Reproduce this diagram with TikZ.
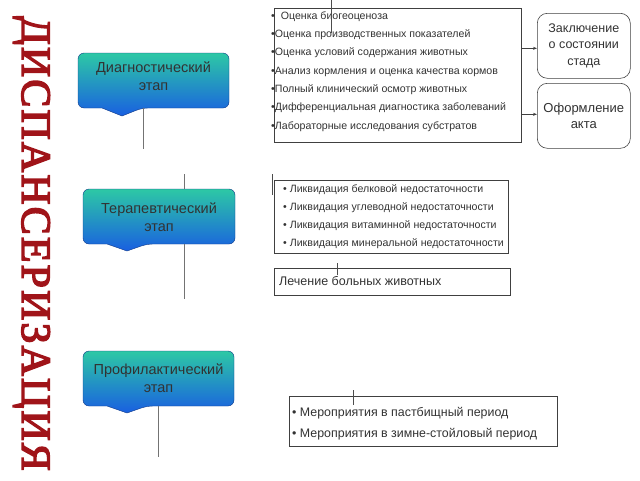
\documentclass[tikz,border=0pt]{standalone}
\usepackage{fontspec}
\setmainfont{Liberation Sans}
\newfontfamily\titlefont[FakeBold=3.5,LetterSpace=5]{Liberation Serif}
\usetikzlibrary{arrows.meta}
\definecolor{stagetop}{RGB}{45,200,165}
\definecolor{stagebot}{RGB}{25,95,225}
\definecolor{titlered}{RGB}{160,20,25}
\definecolor{txt}{RGB}{50,50,50}
\begin{document}
\begin{tikzpicture}[x=1pt,y=-1pt,
  stageshape/.style={top color=stagetop, bottom color=stagebot, draw=stagebot!60!black, line width=0.4pt},
  stagearea/.style={minimum width=#1, minimum height=55pt, inner sep=0},
  stagetext/.style={align=center, font=\fontsize{14.5}{18}\selectfont, text=txt, inner sep=0},
  listbox/.style={draw=black!75, line width=0.6pt, anchor=north west, inner sep=0},
  itemA/.style={anchor=base west, inner sep=0, text=txt, font=\fontsize{10.6}{12}\selectfont},
  itemB/.style={anchor=base west, inner sep=0, text=txt, font=\fontsize{10.6}{12}\selectfont},
  itemD/.style={anchor=base west, inner sep=0, text=txt, font=\fontsize{12.4}{14}\selectfont},
  resultbox/.style={draw=black!75, line width=0.6pt, rounded corners=10pt, anchor=north west,
    minimum width=93pt, minimum height=65pt, align=center, inner sep=0, text=txt},
  stem/.style={draw=black!55, line width=0.7pt},
  link/.style={draw=black!75, line width=0.6pt},
  tick/.style={draw=black!70, line width=0.6pt},
  arrowlink/.style={link, -{Stealth[length=4pt,width=3pt]}}
]
\useasboundingbox (0,0) rectangle (640,480);

% title
\node[rotate=-90, anchor=base west, inner sep=0, text=titlered,
      font=\titlefont\fontsize{42}{42}\selectfont] (title) at (22,16) {ДИСПАНСЕРИЗАЦИЯ};

% stage boxes
\shade[stageshape, rounded corners=6pt] (78,53) -- (229,53) -- (229,108) -- (142,108) [sharp corners] -- (122,116) -- (102,108) [rounded corners=6pt] -- (78,108) -- cycle;
\node[stagearea=151pt] (diag) at (153.5,80.5) {};
\node[stagetext] (diagtxt) at (153.5,76) {Диагностический\\этап};

\shade[stageshape, rounded corners=6pt] (83,189) -- (235,189) -- (235,244) -- (147,244) [sharp corners] -- (127,251) -- (107,244) [rounded corners=6pt] -- (83,244) -- cycle;
\node[stagearea=152pt] (ther) at (159,216.5) {};
\node[stagetext] (thertxt) at (159,217) {Терапевтический\\этап};

\shade[stageshape, rounded corners=6pt] (83,351) -- (234,351) -- (234,406) -- (147,406) [sharp corners] -- (127,413) -- (107,406) [rounded corners=6pt] -- (83,406) -- cycle;
\node[stagearea=151pt] (proph) at (158.5,378.5) {};
\node[stagetext] (prophtxt) at (158.5,378.5) {Профилактический\\этап};

% stems
\coordinate (diagend) at (143,149);
\draw[stem] (diagend |- diag.south) -- (diagend);
\coordinate (thertop) at (184,174);
\coordinate (therend) at (184,299);
\draw[stem] (thertop) -- (thertop |- ther.north);
\draw[stem] (therend |- ther.south) -- (therend);
\coordinate (prophend) at (158,457);
\draw[stem] (prophend |- proph.south) -- (prophend);

% list box A
\node[listbox, minimum width=247pt, minimum height=134pt] (boxA) at (274,8) {};
\node[itemA] (a1) at (271,19) {•\ \ Оценка биогеоценоза};
\node[itemA] (a2) at (271,37.3) {•Оценка производственных показателей};
\node[itemA] (a3) at (271,55.6) {•Оценка условий содержания животных};
\node[itemA] (a4) at (271,74) {•Анализ кормления и оценка качества кормов};
\node[itemA] (a5) at (271,92.3) {•Полный клинический осмотр животных};
\node[itemA] (a6) at (271,110.6) {•Дифференциальная диагностика заболеваний};
\node[itemA] (a7) at (271,129) {•Лабораторные исследования субстратов};
\coordinate (topline) at (331,0);
\coordinate (toplineend) at (331,33);
\draw[tick] (topline) -- (toplineend);

% result boxes
\node[resultbox, font=\fontsize{12.5}{16.5}\selectfont] (concl) at (537,13) {Заключение\\о состоянии\\стада};
\node[resultbox, font=\fontsize{13}{16}\selectfont] (act) at (537,83) {Оформление\\акта};
\coordinate (c1) at ([yshift=-2.5pt]concl.west);
\coordinate (c2) at ([yshift=1.5pt]act.west);
\draw[arrowlink] (c1 -| boxA.east) -- (c1);
\draw[arrowlink] (c2 -| boxA.east) -- (c2);

% list box B
\node[listbox, minimum width=234pt, minimum height=73pt] (boxB) at (274,180) {};
\node[itemB] (b1) at (283,192.5) {•\ Ликвидация белковой недостаточности};
\node[itemB] (b2) at (283,210.5) {•\ Ликвидация углеводной недостаточности};
\node[itemB] (b3) at (283,228.5) {•\ Ликвидация витаминной недостаточности};
\node[itemB] (b4) at (283,246.5) {•\ Ликвидация минеральной недостаточности};
\coordinate (ticktop) at (272,174);
\coordinate (tickbot) at (272,195);
\draw[tick] (ticktop) -- (tickbot);

% box C
\node[listbox, minimum width=236pt, minimum height=27pt] (boxC) at (274,268) {};
\node[anchor=base west, inner sep=0, text=txt, font=\fontsize{12.5}{14}\selectfont] (ctext) at (279,285.5) {Лечение больных животных};
\coordinate (ctick) at (337,263);
\draw[tick] (ctick) -- ([yshift=-12pt]ctick);

% box D
\node[listbox, minimum width=268pt, minimum height=50pt] (boxD) at (289,396) {};
\node[itemD] (d1) at (292,416) {•\ Мероприятия в пастбищный период};
\node[itemD] (d2) at (292,437) {•\ Мероприятия в зимне-стойловый период};
\coordinate (dtick) at (353,390);
\draw[tick] (dtick) -- ([yshift=-15pt]dtick);
\end{tikzpicture}
\end{document}
